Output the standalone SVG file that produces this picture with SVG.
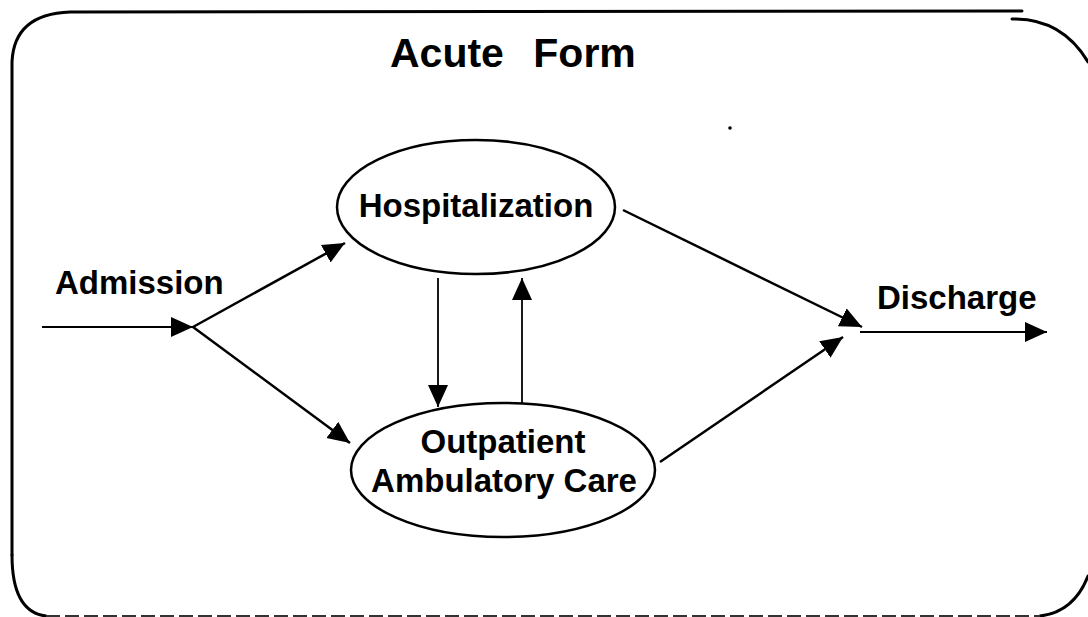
<svg xmlns="http://www.w3.org/2000/svg" width="1088" height="617" viewBox="0 0 1088 617">
  <style>
    .frame { fill: none; stroke: #000; stroke-width: 3; stroke-linecap: round; }
    .node { fill: #fff; stroke: #000; stroke-width: 2.5; }
    .label { font-family: "Liberation Sans", Arial, sans-serif; font-weight: bold; fill: #000; }
    .edge { fill: none; stroke: #000; stroke-width: 2.5; }
    .thin { stroke-width: 1.8; }
  </style>
  <defs>
    <marker id="head" markerUnits="userSpaceOnUse" markerWidth="24" markerHeight="22" refX="22" refY="10" orient="auto">
      <path d="M0,0 L22,10 L0,20 z" fill="#000"/>
    </marker>
  </defs>
  <rect width="1088" height="617" fill="#fff"/>

  <!-- outer rounded frame -->
  <g id="frame">
    <path class="frame" d="M12,555 L12,62 Q14,14 70,12 L1022,11"/>
    <path class="frame" d="M1012,19 Q1062,18 1088,62"/>
    <path class="frame" d="M12,555 Q12,612 46,616"/>
    <path class="frame" d="M1040,616 Q1074,612 1088,576"/>
    <path d="M46,616 L1040,616" fill="none" stroke="#333" stroke-width="2" stroke-dasharray="14 5"/>
  </g>

  <text id="title" class="label" x="390" y="67" font-size="41" word-spacing="18">Acute Form</text>

  <!-- connectors -->
  <g id="connectors">
    <path class="edge thin" d="M42,327 L193,327" marker-end="url(#head)"/>
    <path class="edge" d="M193,327 L345,243" marker-end="url(#head)"/>
    <path class="edge" d="M193,327 L350,443" marker-end="url(#head)"/>
    <path class="edge thin" d="M438,278 L438,407" marker-end="url(#head)"/>
    <path class="edge thin" d="M522,403 L522,278" marker-end="url(#head)"/>
    <path class="edge" d="M623,210 L862,327" marker-end="url(#head)"/>
    <path class="edge" d="M660,462 L843,337" marker-end="url(#head)"/>
    <path class="edge thin" d="M860,332 L1047,332" marker-end="url(#head)"/>
  </g>

  <g id="hospitalization">
    <ellipse class="node" cx="476" cy="207" rx="139" ry="67"/>
    <text class="label" x="476" y="217" font-size="33" text-anchor="middle">Hospitalization</text>
  </g>

  <g id="outpatient">
    <ellipse class="node" cx="503" cy="470" rx="152" ry="67"/>
    <text class="label" x="503" y="453" font-size="33" text-anchor="middle">Outpatient</text>
    <text class="label" x="504" y="492" font-size="33" text-anchor="middle">Ambulatory Care</text>
  </g>

  <g id="admission">
    <text class="label" x="55" y="294" font-size="33">Admission</text>
  </g>

  <g id="discharge">
    <text class="label" x="877" y="309" font-size="33">Discharge</text>
  </g>

  <circle cx="730" cy="128" r="1.8" fill="#000"/>
</svg>
